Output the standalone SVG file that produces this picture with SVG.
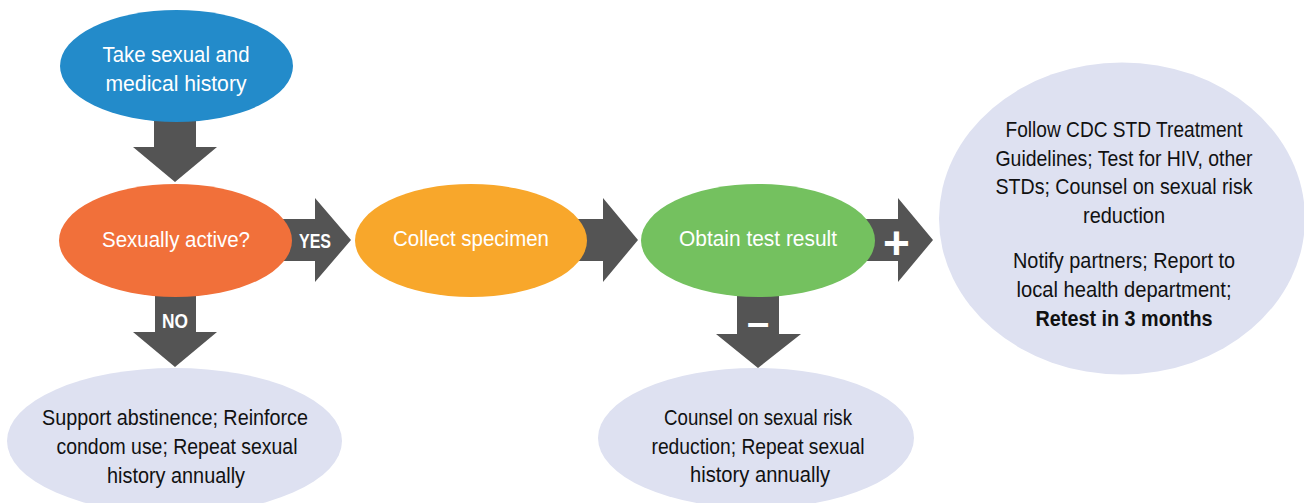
<svg xmlns="http://www.w3.org/2000/svg" width="1304" height="503" viewBox="0 0 1304 503">
<style>
.arrow{fill:#545454}
.t{font-family:"Liberation Sans",Arial,sans-serif;font-size:22.5px;text-anchor:middle}
.w{fill:#ffffff}
.k{fill:#111111}
.lbl{font-family:"Liberation Sans",Arial,sans-serif;font-weight:bold;fill:#ffffff;text-anchor:middle}
.res{fill:#dee1f1}
</style>
<rect width="1304" height="503" fill="#ffffff"/>
<g id="connectors">
  <polygon class="arrow" points="154,110 196,110 196,147 217,147 175,182 133,147 154,147"/>
  <polygon class="arrow" points="155,280 196,280 196,332 217,332 175,367 133,332 155,332"/>
  <polygon class="arrow" points="280,219 315,219 315,198 351,240 315,282 315,261 280,261"/>
  <polygon class="arrow" points="570,219 603,219 603,198 638,240 603,282 603,261 570,261"/>
  <polygon class="arrow" points="860,219 898,219 898,198 933,240 898,282 898,261 860,261"/>
  <polygon class="arrow" points="737,280 779,280 779,334 801,334 758,368 716,334 737,334"/>
</g>
<g id="node-history">
  <ellipse cx="176.5" cy="66" rx="116.5" ry="56" fill="#238bca"/>
  <text class="t w" x="176" y="62" textLength="147" lengthAdjust="spacingAndGlyphs">Take sexual and</text>
  <text class="t w" x="176" y="91" textLength="141" lengthAdjust="spacingAndGlyphs">medical history</text>
</g>
<g id="node-active">
  <ellipse cx="175.5" cy="240.5" rx="116.5" ry="56.5" fill="#f1703a"/>
  <text class="t w" x="176" y="247" textLength="148" lengthAdjust="spacingAndGlyphs">Sexually active?</text>
</g>
<g id="node-collect">
  <ellipse cx="471" cy="240.5" rx="116" ry="56.5" fill="#f8a72b"/>
  <text class="t w" x="471" y="246" textLength="156" lengthAdjust="spacingAndGlyphs">Collect specimen</text>
</g>
<g id="node-result">
  <ellipse cx="758" cy="240.5" rx="117" ry="56.5" fill="#74c15f"/>
  <text class="t w" x="758" y="246" textLength="158" lengthAdjust="spacingAndGlyphs">Obtain test result</text>
</g>
<g id="node-no">
  <ellipse class="res" cx="174.5" cy="441" rx="167.5" ry="73"/>
  <text class="t k" x="175" y="425" textLength="266" lengthAdjust="spacingAndGlyphs">Support abstinence; Reinforce</text>
  <text class="t k" x="177" y="454" textLength="241" lengthAdjust="spacingAndGlyphs">condom use; Repeat sexual</text>
  <text class="t k" x="176" y="483" textLength="138" lengthAdjust="spacingAndGlyphs">history annually</text>
</g>
<g id="node-negative">
  <ellipse class="res" cx="756" cy="438" rx="158" ry="70"/>
  <text class="t k" x="758" y="425" textLength="188" lengthAdjust="spacingAndGlyphs">Counsel on sexual risk</text>
  <text class="t k" x="758" y="454" textLength="213" lengthAdjust="spacingAndGlyphs">reduction; Repeat sexual</text>
  <text class="t k" x="760" y="482" textLength="140" lengthAdjust="spacingAndGlyphs">history annually</text>
</g>
<g id="node-positive">
  <ellipse class="res" cx="1122" cy="218.5" rx="183" ry="156"/>
  <text class="t k" x="1124" y="137" textLength="237" lengthAdjust="spacingAndGlyphs">Follow CDC STD Treatment</text>
  <text class="t k" x="1124" y="166" textLength="257" lengthAdjust="spacingAndGlyphs">Guidelines; Test for HIV, other</text>
  <text class="t k" x="1124" y="194" textLength="257" lengthAdjust="spacingAndGlyphs">STDs; Counsel on sexual risk</text>
  <text class="t k" x="1124" y="223" textLength="82" lengthAdjust="spacingAndGlyphs">reduction</text>
  <text class="t k" x="1124" y="268" textLength="222" lengthAdjust="spacingAndGlyphs">Notify partners; Report to</text>
  <text class="t k" x="1124" y="297" textLength="215" lengthAdjust="spacingAndGlyphs">local health department;</text>
  <text class="t k" x="1124" y="326" font-weight="bold" textLength="177" lengthAdjust="spacingAndGlyphs">Retest in 3 months</text>
</g>
<g id="connector-labels">
  <text class="lbl" x="315" y="248" font-size="20" textLength="32" lengthAdjust="spacingAndGlyphs">YES</text>
  <text class="lbl" x="175" y="328" font-size="21" textLength="26" lengthAdjust="spacingAndGlyphs">NO</text>
  <text class="lbl" x="896.5" y="259" font-size="46">+</text>
  <text class="lbl" x="758" y="336" font-size="40">–</text>
</g>
</svg>
